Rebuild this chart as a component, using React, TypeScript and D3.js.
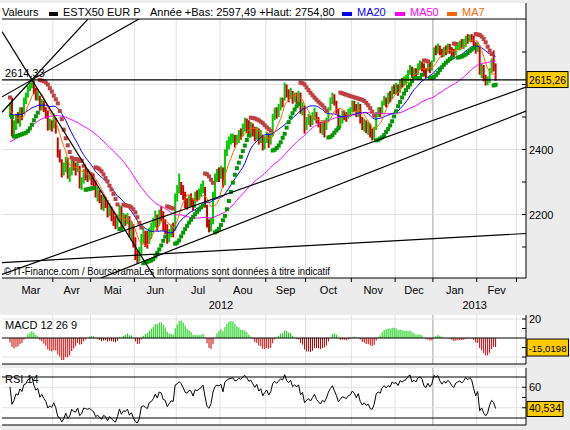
import React from 'react';
import * as d3 from 'd3';

// ---------- DATA ----------
const preCloses = [
  2330, 2340, 2320, 2300, 2310, 2260, 2240, 2230, 2210, 2240, 2250, 2220, 2280, 2300, 2310, 2300, 2290, 2310, 2317,
  2350, 2340, 2320, 2300, 2290, 2310, 2330, 2330, 2345, 2370, 2385, 2395, 2410, 2425, 2435, 2425, 2415, 2425, 2410, 2400, 2415, 2420,
  2455, 2465, 2485, 2505, 2495, 2480, 2505, 2515, 2490, 2480, 2495, 2515, 2525, 2535, 2515, 2505, 2525, 2535, 2530, 2515, 2515,
];

const closes = [
  // Mar 2012
  2520, 2455, 2470, 2500, 2495, 2525, 2515, 2555, 2560, 2590, 2595, 2610, 2580, 2560, 2570, 2530, 2545, 2525, 2510, 2470, 2480, 2470,
  // Apr
  2490, 2460, 2390, 2380, 2330, 2345, 2370, 2320, 2330, 2365, 2345, 2340, 2360, 2290, 2300, 2330, 2325, 2320, 2325,
  // May
  2310, 2300, 2260, 2265, 2250, 2230, 2245, 2235, 2200, 2215, 2195, 2180, 2165, 2185, 2215, 2175, 2190, 2185, 2195, 2150, 2160, 2115,
  // Jun
  2075, 2060, 2080, 2135, 2140, 2130, 2120, 2150, 2155, 2170, 2195, 2175, 2210, 2205, 2170, 2165, 2125, 2140, 2155, 2150, 2260,
  // Jul
  2270, 2290, 2280, 2260, 2235, 2230, 2250, 2245, 2220, 2260, 2255, 2265, 2275, 2290, 2235, 2170, 2155, 2180, 2260, 2310, 2325, 2320,
  // Aug
  2335, 2290, 2390, 2410, 2430, 2435, 2440, 2425, 2430, 2450, 2445, 2470, 2485, 2475, 2460, 2470, 2455, 2440, 2460, 2430, 2445, 2410, 2430,
  // Sep
  2445, 2420, 2440, 2500, 2520, 2510, 2530, 2550, 2545, 2595, 2570, 2560, 2580, 2550, 2565, 2555, 2570, 2520, 2535, 2470,
  // Oct
  2485, 2495, 2480, 2500, 2520, 2490, 2475, 2460, 2480, 2470, 2490, 2525, 2550, 2570, 2545, 2520, 2480, 2495, 2510, 2505, 2500, 2515, 2520,
  // Nov
  2540, 2530, 2510, 2530, 2490, 2470, 2480, 2465, 2470, 2445, 2440, 2460, 2510, 2520, 2515, 2545, 2560, 2550, 2565, 2560, 2590, 2585,
  // Dec
  2590, 2580, 2610, 2605, 2615, 2620, 2640, 2650, 2630, 2640, 2635, 2660, 2665, 2660, 2640, 2635, 2655, 2645, 2660,
  // Jan 2013
  2710, 2705, 2715, 2700, 2690, 2705, 2700, 2715, 2710, 2700, 2695, 2715, 2720, 2725, 2720, 2730, 2745, 2740, 2750, 2745, 2725, 2705,
  // Feb
  2720, 2640, 2650, 2620, 2600, 2610, 2640, 2660, 2650, 2615.26,
];

const highs = [
  2545, 2560, 2490, 2510, 2515, 2530, 2530, 2560, 2575, 2597, 2605, 2614, 2612, 2590, 2585, 2566, 2555, 2550, 2530, 2520, 2495, 2490,
  2511, 2495, 2437, 2400, 2370, 2360, 2378, 2375, 2345, 2370, 2370, 2360, 2365, 2350, 2315, 2340, 2345, 2340, 2335,
  2330, 2326, 2305, 2285, 2275, 2260, 2260, 2255, 2245, 2235, 2225, 2210, 2195, 2200, 2230, 2225, 2205, 2200, 2205, 2195, 2180, 2170,
  2130, 2090, 2100, 2140, 2160, 2150, 2150, 2160, 2175, 2190, 2212, 2200, 2215, 2225, 2210, 2185, 2170, 2155, 2170, 2175, 2265,
  2290, 2326, 2300, 2290, 2270, 2250, 2260, 2265, 2250, 2270, 2275, 2280, 2295, 2305, 2285, 2230, 2185, 2190, 2270, 2326, 2340, 2345,
  2350, 2345, 2400, 2428, 2440, 2449, 2449, 2445, 2445, 2460, 2465, 2480, 2498, 2495, 2490, 2485, 2480, 2470, 2470, 2465, 2460, 2445, 2440,
  2455, 2450, 2450, 2510, 2529, 2530, 2540, 2560, 2560, 2606, 2600, 2585, 2590, 2580, 2575, 2575, 2581, 2575, 2545, 2535,
  2500, 2510, 2505, 2515, 2529, 2515, 2500, 2485, 2490, 2490, 2498, 2530, 2560, 2575, 2570, 2550, 2525, 2505, 2520, 2520, 2515, 2525, 2530,
  2551, 2550, 2540, 2545, 2540, 2500, 2495, 2490, 2485, 2480, 2465, 2470, 2515, 2530, 2530, 2550, 2565, 2560, 2575, 2580, 2595, 2600,
  2605, 2600, 2615, 2620, 2625, 2630, 2645, 2660, 2655, 2650, 2650, 2665, 2674, 2670, 2665, 2650, 2665, 2670, 2674,
  2714, 2720, 2726, 2720, 2710, 2715, 2720, 2726, 2725, 2715, 2710, 2720, 2730, 2735, 2740, 2740, 2750, 2755, 2754, 2755, 2750, 2730,
  2730, 2720, 2665, 2660, 2630, 2625, 2650, 2680, 2705, 2665,
];

const lows = [
  2500, 2440, 2445, 2460, 2480, 2470, 2490, 2510, 2540, 2560, 2580, 2588, 2570, 2551, 2550, 2520, 2520, 2515, 2495, 2458, 2460, 2455,
  2465, 2449, 2375, 2360, 2314, 2320, 2330, 2310, 2300, 2320, 2335, 2320, 2330, 2280, 2276, 2295, 2305, 2300, 2305,
  2290, 2285, 2252, 2240, 2235, 2215, 2210, 2220, 2191, 2195, 2180, 2165, 2155, 2160, 2175, 2160, 2155, 2165, 2170, 2130, 2120, 2098,
  2060, 2050, 2055, 2075, 2110, 2100, 2095, 2110, 2125, 2145, 2160, 2150, 2165, 2180, 2150, 2140, 2110, 2115, 2130, 2130, 2150,
  2240, 2265, 2260, 2245, 2220, 2215, 2220, 2225, 2212, 2220, 2240, 2245, 2255, 2265, 2221, 2160, 2145, 2148, 2170, 2250, 2300, 2300,
  2310, 2283, 2290, 2380, 2400, 2415, 2420, 2406, 2415, 2420, 2430, 2440, 2455, 2450, 2445, 2437, 2440, 2425, 2430, 2415, 2420, 2397, 2400,
  2420, 2405, 2415, 2440, 2490, 2495, 2500, 2520, 2530, 2550, 2560, 2545, 2555, 2541, 2545, 2540, 2545, 2510, 2505, 2449,
  2460, 2475, 2470, 2475, 2490, 2480, 2468, 2450, 2445, 2437, 2460, 2485, 2520, 2540, 2535, 2510, 2470, 2465, 2480, 2490, 2485, 2495, 2500,
  2515, 2515, 2500, 2500, 2480, 2460, 2455, 2450, 2445, 2437, 2428, 2430, 2460, 2500, 2500, 2510, 2535, 2530, 2540, 2545, 2555, 2570,
  2570, 2565, 2575, 2590, 2595, 2600, 2610, 2630, 2620, 2620, 2620, 2630, 2645, 2640, 2625, 2620, 2640, 2635, 2643,
  2670, 2690, 2695, 2690, 2683, 2685, 2690, 2695, 2695, 2686, 2683, 2690, 2705, 2705, 2710, 2710, 2715, 2725, 2730, 2730, 2715, 2695,
  2700, 2630, 2620, 2610, 2597, 2598, 2605, 2635, 2640, 2612,
];

const monthLabels = ['Mar', 'Avr', 'Mai', 'Jun', 'Jul', 'Aou', 'Sep', 'Oct', 'Nov', 'Dec', 'Jan', 'Fev'];
const monthTradingDays = [22, 19, 22, 21, 22, 23, 20, 23, 22, 19, 22, 20];
const yearLabels = ['2012', '2013'];
const yearMonthCounts = [10, 2];

const priceTicks = [2100, 2200, 2300, 2400, 2500, 2600, 2700];
const priceLabels = [2200, 2400];
const priceGrid = [2200, 2400, 2600];
const macdTicks = [-20, -10, 10, 20];
const macdGrid = [-20, 20];
const macdLabels = [20];
const rsiTicks = [40, 50, 60];
const rsiGrid = [40, 60];
const rsiLabels = [60];
const rsiLevels = [30, 70];

const levelValue = 2614.33;
const levelText = '2614,33';
const lastText = '2615,26';
const macdText = '-15,0198';
const rsiText = '40,534';
const headerLeft = 'Valeurs';
const headerName = 'ESTX50 EUR P';
const headerRange = 'Année +Bas: 2597,49 +Haut: 2754,80';
const watermark = '© IT-Finance.com / BoursoramaLes informations sont données à titre indicatif';

// trend lines in (day index, price) space
const trendLines = [
  [[11, 2614.33], [39.2, 2801.5]],
  [[11, 2614.33], [64.8, 2801.5]],
  [[11, 2614.33], [70.3, 2029]],
  [[-3.5, 2052], [259.3, 2141.5]],
  [[45.7, 2004.6], [259.3, 2518.5]],
  [[-3.5, 2017], [259.3, 2592]],
];

// ---------- INDICATORS ----------
function sma(all: number[], off: number, n: number, len: number) {
  const out: number[] = [];
  for (let i = 0; i < len; i++) {
    const end = off + i;
    const start = Math.max(0, end - n + 1);
    let s = 0;
    for (let k = start; k <= end; k++) s += all[k];
    out.push(s / (end - start + 1));
  }
  return out;
}
function ema(v: number[], n: number) {
  const a = 2 / (n + 1);
  const out: number[] = [];
  let e = v[0];
  v.forEach((x, i) => {
    e = i === 0 ? x : a * x + (1 - a) * e;
    out.push(e);
  });
  return out;
}
function rsi(v: number[], n: number) {
  const out: number[] = new Array(v.length).fill(NaN);
  let g = 0, l = 0;
  for (let i = 1; i <= n; i++) {
    const d = v[i] - v[i - 1];
    if (d > 0) g += d; else l -= d;
  }
  g /= n; l /= n;
  out[n] = 100 - 100 / (1 + g / (l || 1e-9));
  for (let i = n + 1; i < v.length; i++) {
    const d = v[i] - v[i - 1];
    g = (g * (n - 1) + Math.max(d, 0)) / n;
    l = (l * (n - 1) + Math.max(-d, 0)) / n;
    out[i] = 100 - 100 / (1 + g / (l || 1e-9));
  }
  return out;
}
function parabolicSar(H: number[], L: number[], step = 0.02, max = 0.2) {
  const res: { v: number; up: boolean }[] = [];
  let up = false;
  let af = step;
  let ep = L[0];
  let s = Math.max(H[0], H[1]);
  res.push({ v: s, up });
  for (let i = 1; i < H.length; i++) {
    let next = s + af * (ep - s);
    if (up) {
      next = Math.min(next, L[i - 1], L[Math.max(0, i - 2)]);
      if (L[i] < next) {
        up = false; next = ep; ep = L[i]; af = step;
      } else if (H[i] > ep) {
        ep = H[i]; af = Math.min(af + step, max);
      }
    } else {
      next = Math.max(next, H[i - 1], H[Math.max(0, i - 2)]);
      if (H[i] > next) {
        up = true; next = ep; ep = H[i]; af = step;
      } else if (L[i] < ep) {
        ep = L[i]; af = Math.min(af + step, max);
      }
    }
    s = next;
    res.push({ v: s, up });
  }
  return res;
}

// ---------- LAYOUT ----------
const W = 570, H = 430;
const PL = 2, PR = 526;
const MAIN_TOP = 3, HEAD_LINE = 19, MAIN_BOT = 278;
const MACD_TOP = 315, MACD_BOT = 364;
const RSI_TOP = 368, RSI_BOT = 425;
const FONT = '"Liberation Sans", Arial, sans-serif';
const GREEN = '#00cc00', RED = '#cc0000';
const BOX = '#ffcc00';

export default function App() {
  const N = closes.length;
  const off = preCloses.length;
  const all = preCloses.concat(closes);

  const x = d3.scaleLinear().domain([0, 244]).range([10, 495.6]);
  const y = d3.scaleLinear().domain([2200, 2400]).range([214.5, 149.5]);
  const ym = d3.scaleLinear().domain([-20, 20]).range([357, 319]);
  const yr = d3.scaleLinear().domain([30, 70]).range([418, 377]);

  const ma7 = sma(all, off, 7, N);
  const ma20 = sma(all, off, 20, N);
  const ma50 = sma(all, off, 50, N);
  const e12 = ema(all, 12), e26 = ema(all, 26);
  const macdLine = all.map((_, i) => e12[i] - e26[i]);
  const sig = ema(macdLine, 9);
  const hist = macdLine.map((m, i) => m - sig[i]).slice(off);
  const rsiAll = rsi(all, 14).slice(off);
  const sar = parabolicSar(highs, lows);

  const bounds: number[] = [0];
  monthTradingDays.forEach((d, i) => bounds.push(bounds[i] + d));
  const bx = (b: number) => x(b - 0.5);
  const yearBounds: number[] = [0];
  yearMonthCounts.forEach((c, i) => yearBounds.push(yearBounds[i] + c));

  const line = (vals: number[]) =>
    d3.line<number>().x((_, i) => x(i)).y((v) => y(v))(vals) || '';
  const rsiPath = d3
    .line<number>()
    .defined((v) => !isNaN(v))
    .x((_, i) => x(i))
    .y((v) => yr(v))(rsiAll) || '';

  const ext = (p: number[][]) => {
    const [a, b] = p;
    const slope = (b[1] - a[1]) / (b[0] - a[0]);
    const x0 = x.invert(PL), x1 = x.invert(PR);
    return { x1: PL, y1: y(a[1] + slope * (x0 - a[0])), x2: PR, y2: y(a[1] + slope * (x1 - a[0])) };
  };

  const vGrid = (top: number, bot: number, key: string) =>
    bounds.slice(1).map((b, i) => {
      const isYear = b === bounds[yearMonthCounts[0]];
      return (
        <line key={key + i} x1={bx(b)} x2={bx(b)} y1={top} y2={bot}
          stroke={isYear ? '#a0a0a0' : '#e2e2e2'} strokeWidth={1} />
      );
    });

  return (
    <div style={{ position: 'absolute', left: 0, top: 0 }}>
      <svg width={W} height={H} style={{ display: 'block', fontFamily: FONT }}>
        <defs>
          <clipPath id="cMain"><rect x={PL} y={HEAD_LINE} width={PR - PL} height={MAIN_BOT - HEAD_LINE} /></clipPath>
          <clipPath id="cMacd"><rect x={PL} y={MACD_TOP} width={PR - PL} height={MACD_BOT - MACD_TOP} /></clipPath>
          <clipPath id="cRsi"><rect x={PL} y={RSI_TOP} width={PR - PL} height={RSI_BOT - RSI_TOP} /></clipPath>
        </defs>
        <rect x={0} y={0} width={W} height={H} fill="#ececec" />
        <rect x={0} y={MAIN_TOP} width={PR} height={MAIN_BOT - MAIN_TOP} fill="#fff" />
        <rect x={0} y={MACD_TOP} width={PR} height={MACD_BOT - MACD_TOP} fill="#fff" />
        <rect x={0} y={RSI_TOP} width={PR} height={RSI_BOT - RSI_TOP} fill="#fff" />

        {vGrid(HEAD_LINE, MAIN_BOT, 'gm')}
        {priceGrid.map((p) => (
          <line key={'hg' + p} x1={PL} x2={PR} y1={y(p)} y2={y(p)} stroke="#e2e2e2" />
        ))}

        <g clipPath="url(#cMain)">
          {closes.map((c, i) => {
            const prev = i === 0 ? preCloses[preCloses.length - 1] : closes[i - 1];
            const top = y(highs[i]);
            const h = Math.max(1, y(lows[i]) - top);
            return <rect key={'b' + i} x={x(i) - 1} y={top} width={2} height={h} fill={c >= prev ? GREEN : RED} />;
          })}
          <path d={line(ma50)} fill="none" stroke="#ff00ff" strokeWidth={1} />
          <path d={line(ma20)} fill="none" stroke="#0000ff" strokeWidth={1} />
          <path d={line(ma7)} fill="none" stroke="#ff6600" strokeWidth={1} />
          {sar.map((s, i) => (
            <rect key={'s' + i} x={x(i) - 2} y={y(s.v) - 2} width={4} height={4}
              fill={s.up ? '#009900' : '#bf4040'} />
          ))}
          {trendLines.map((t, i) => {
            const e = ext(t);
            return <line key={'t' + i} {...e} stroke="#000" strokeWidth={1.2} />;
          })}
          <line x1={PL} x2={PR} y1={y(levelValue)} y2={y(levelValue)} stroke="#000" strokeWidth={1.3} />
        </g>
        <text x={5} y={y(levelValue) - 3} fontSize={11}>{levelText}</text>

        {/* header */}
        <line x1={PL} x2={PR} y1={HEAD_LINE} y2={HEAD_LINE} stroke="#000" strokeWidth={1} />
        <text x={2} y={16} fontSize={11}>{headerLeft}</text>
        <rect x={49} y={12} width={9} height={4} fill="#000" />
        <text x={63} y={16} fontSize={11}>{headerName}</text>
        <text x={150} y={16} fontSize={11}>{headerRange}</text>
        <rect x={342} y={12} width={10} height={4} fill="#0000ff" />
        <text x={357} y={16} fontSize={11} fill="#0000ff">MA20</text>
        <rect x={395} y={12} width={10} height={4} fill="#ff00ff" />
        <text x={410} y={16} fontSize={11} fill="#ff00ff">MA50</text>
        <rect x={447} y={12} width={10} height={4} fill="#ff6600" />
        <text x={462} y={16} fontSize={11} fill="#ff6600">MA7</text>

        <text x={4} y={275} fontSize={10.5} textLength={326} lengthAdjust="spacingAndGlyphs">{watermark}</text>

        <line x1={PL} x2={PR} y1={MAIN_BOT} y2={MAIN_BOT} stroke="#000" />
        <line x1={PR} x2={PR} y1={MAIN_TOP} y2={MAIN_BOT} stroke="#000" />

        {priceTicks.map((p) => (
          <line key={'pt' + p} x1={PR - 4} x2={PR} y1={y(p)} y2={y(p)} stroke="#000" />
        ))}
        {priceLabels.map((p) => (
          <text key={'pl' + p} x={529} y={y(p) + 4} fontSize={11}>{p}</text>
        ))}
        <rect x={527} y={y(closes[N - 1]) - 8} width={41} height={16} fill={BOX} stroke="#000" />
        <text x={529} y={y(closes[N - 1]) + 4} fontSize={11} textLength={37} lengthAdjust="spacingAndGlyphs">{lastText}</text>

        {bounds.slice(1).map((b, i) => (
          <line key={'xt' + i} x1={bx(b)} x2={bx(b)} y1={MAIN_BOT} y2={MAIN_BOT + 4} stroke="#000" />
        ))}
        {monthLabels.map((m, i) => (
          <text key={'ml' + i} x={(bx(bounds[i]) + bx(bounds[i + 1])) / 2} y={294} fontSize={11} textAnchor="middle">{m}</text>
        ))}
        {yearLabels.map((yl, i) => (
          <text key={'yl' + i}
            x={(bx(bounds[yearBounds[i]]) + bx(bounds[yearBounds[i + 1]])) / 2}
            y={309} fontSize={11} textAnchor="middle">{yl}</text>
        ))}

        {/* MACD */}
        {vGrid(MACD_TOP, MACD_BOT, 'gmacd')}
        {macdGrid.map((v) => (
          <line key={'mg' + v} x1={PL} x2={PR} y1={ym(v)} y2={ym(v)} stroke="#e2e2e2" />
        ))}
        <g clipPath="url(#cMacd)">
          {hist.map((h, i) => (
            <rect key={'h' + i} x={x(i) - 0.5} y={Math.min(ym(h), ym(0))} width={1}
              height={Math.abs(ym(h) - ym(0))} fill={h >= 0 ? GREEN : RED} />
          ))}
        </g>
        <line x1={PL} x2={PR} y1={ym(0)} y2={ym(0)} stroke="#000" />
        <text x={5} y={329} fontSize={11}>MACD 12 26 9</text>
        <line x1={PL} x2={PR} y1={MACD_BOT} y2={MACD_BOT} stroke="#000" />
        <line x1={PR} x2={PR} y1={MACD_TOP} y2={MACD_BOT} stroke="#000" />
        {macdTicks.map((v) => (
          <line key={'mt' + v} x1={PR - 4} x2={PR} y1={ym(v)} y2={ym(v)} stroke="#000" />
        ))}
        {macdLabels.map((v) => (
          <text key={'mlb' + v} x={529} y={ym(v) + 4} fontSize={11}>{v}</text>
        ))}
        <rect x={527} y={ym(hist[N - 1]) - 8} width={41.5} height={17} fill={BOX} stroke="#000" />
        <text x={528.5} y={ym(hist[N - 1]) + 4.5} fontSize={9.8} textLength={38} lengthAdjust="spacingAndGlyphs">{macdText}</text>

        {/* RSI */}
        {vGrid(RSI_TOP, RSI_BOT, 'grsi')}
        {rsiGrid.map((v) => (
          <line key={'rg' + v} x1={PL} x2={PR} y1={yr(v)} y2={yr(v)} stroke="#e2e2e2" />
        ))}
        <g clipPath="url(#cRsi)">
          <path d={rsiPath} fill="none" stroke="#000" strokeWidth={1} />
        </g>
        {rsiLevels.map((v) => (
          <line key={'rl' + v} x1={PL} x2={PR} y1={yr(v)} y2={yr(v)} stroke="#000" />
        ))}
        <text x={5} y={383} fontSize={11}>RSI 14</text>
        <line x1={PL} x2={PR} y1={RSI_BOT} y2={RSI_BOT} stroke="#000" />
        <line x1={PR} x2={PR} y1={RSI_TOP} y2={RSI_BOT} stroke="#000" />
        {rsiTicks.map((v) => (
          <line key={'rt' + v} x1={PR - 4} x2={PR} y1={yr(v)} y2={yr(v)} stroke="#000" />
        ))}
        {rsiLabels.map((v) => (
          <text key={'rlb' + v} x={529} y={yr(v) + 4} fontSize={11}>{v}</text>
        ))}
        <rect x={527} y={yr(rsiAll[N - 1]) - 7} width={36} height={15} fill={BOX} stroke="#000" />
        <text x={529} y={yr(rsiAll[N - 1]) + 4} fontSize={11} textLength={32} lengthAdjust="spacingAndGlyphs">{rsiText}</text>
      </svg>
    </div>
  );
}
